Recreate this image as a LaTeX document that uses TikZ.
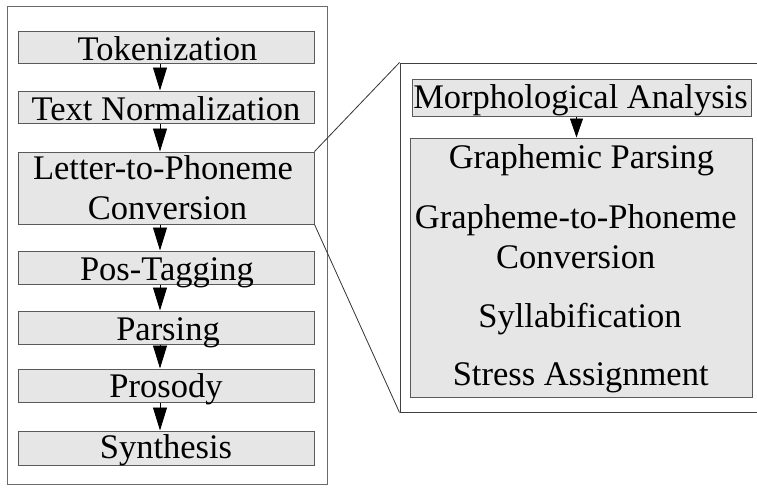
\documentclass[tikz,border=0pt]{standalone}
\usepackage{fontspec}
\setmainfont{Liberation Serif}
\usetikzlibrary{arrows.meta,calc}
\definecolor{boxfill}{HTML}{E6E6E6}
\definecolor{boxline}{HTML}{5A5A5A}
\definecolor{frameline}{HTML}{6A6A6A}
\begin{document}
\begin{tikzpicture}[x=1pt,y=-1pt,
  stage/.style={draw=boxline,fill=boxfill,line width=1pt,inner sep=0pt,rectangle},
  frame/.style={draw=frameline,line width=1pt,inner sep=0pt,rectangle},
  lbl/.style={inner sep=0pt,anchor=base,font=\fontsize{34.5}{40}\selectfont},
  arr/.style={line width=0.8pt,-{Triangle[width=14pt,length=23pt]}},
  arrs/.style={line width=0.8pt,-{Triangle[width=13pt,length=19pt]}},
  zoomline/.style={draw=black!80,line width=0.8pt}]
\useasboundingbox (0,0) rectangle (757,491);
% frames
\node[frame,minimum width=320pt,minimum height=478pt] (lframe) at (167,245) {};
\node[frame,draw=black!75,minimum width=360pt,minimum height=349pt] (rframe) at (580,237.5) {};
% left stages
\node[stage,minimum width=296pt,minimum height=32pt] (tok) at (166,47) {};
\node[stage,minimum width=296pt,minimum height=32pt] (tn) at (166,107) {};
\node[stage,minimum width=296pt,minimum height=72pt] (ltp) at (166,188) {};
\node[stage,minimum width=296pt,minimum height=33pt] (pos) at (166,267.5) {};
\node[stage,minimum width=296pt,minimum height=33pt] (par) at (166,327.5) {};
\node[stage,minimum width=296pt,minimum height=33pt] (pro) at (166,385.5) {};
\node[stage,minimum width=296pt,minimum height=34pt] (syn) at (166,448) {};
% left labels
\node[lbl] (tokt) at (167.5,60) {Tokenization};
\node[lbl] (tnt) at (166,120) {Text Normalization};
\node[lbl] (ltpa) at (163,179) {Letter-to-Phoneme};
\node[lbl] (ltpb) at (167.5,219) {Conversion};
\node[lbl] (post) at (167,280) {Pos-Tagging};
\node[lbl] (part) at (168,340) {Parsing};
\node[lbl] (prot) at (166,397) {Prosody};
\node[lbl] (synt) at (166,458) {Synthesis};
% left arrows
\foreach \a/\b in {tok/tn,tn/ltp,ltp/pos,pos/par,par/pro,pro/syn}
  \draw[arr] ([xshift=-6pt]\a.south) -- ([xshift=-6pt]\a.south |- \b.north);
% right stages
\node[stage,minimum width=339pt,minimum height=37pt] (morph) at (581.5,97.5) {};
\node[stage,minimum width=342pt,minimum height=259pt] (g2p) at (581,267.5) {};
\node[lbl] (morpht) at (580.5,108) {Morphological Analysis};
\node[lbl] (gp) at (581.5,168) {Graphemic Parsing};
\node[lbl] (gtpa) at (575.8,228) {Grapheme-to-Phoneme};
\node[lbl] (gtpb) at (575.7,268) {Conversion};
\node[lbl] (syl) at (580,327) {Syllabification};
\node[lbl] (str) at (580.7,385) {Stress Assignment};
\draw[arrs] ([xshift=-5pt]morph.south) -- ([xshift=-5pt]morph.south |- g2p.north);
% zoom lines
\draw[zoomline] (ltp.north east) -- (rframe.north west);
\draw[zoomline] (ltp.south east) -- (rframe.south west);
\end{tikzpicture}
\end{document}
